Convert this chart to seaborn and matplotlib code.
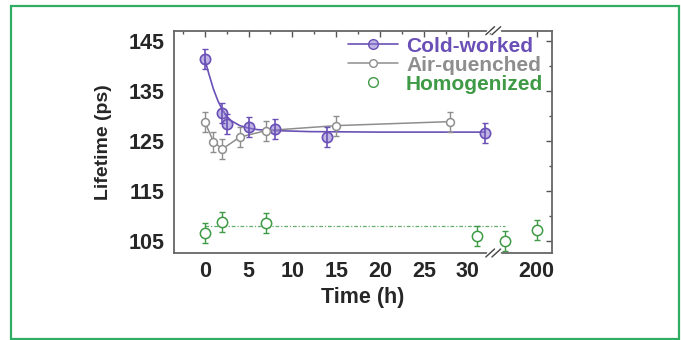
import numpy as np
import pandas as pd
import matplotlib
matplotlib.use('Agg')
import matplotlib.pyplot as plt
import seaborn as sns
from matplotlib.patches import Rectangle
from matplotlib.lines import Line2D
from matplotlib.ticker import MultipleLocator

# ── DATA ─────────────────────────────────────────────────────
cold_t   = [0, 2, 2.5, 5, 8, 14, 32]
cold_y   = [141.3, 130.5, 128.3, 127.8, 127.3, 125.7, 126.5]
cold_err = [2.0, 2.0, 2.0, 2.0, 2.0, 2.0, 2.0]

# fitted decay curve
fit_t = [0, 0.5, 1, 1.5, 2, 2.5, 3, 4, 5, 6, 8, 12, 20, 32]
fit_y = [141.3, 138.2, 135.3, 133.0, 131.2, 129.9, 129.0, 128.0,
         127.5, 127.2, 127.0, 126.8, 126.7, 126.7]

air_t   = [0, 1, 2, 4, 7, 15, 28]
air_y   = [128.8, 124.8, 123.3, 125.7, 127.0, 128.0, 128.8]
air_err = [2.0, 2.0, 2.0, 2.0, 2.0, 2.0, 2.0]

hom_t   = [0, 2, 7, 31, 100, 200]
hom_y   = [106.5, 108.7, 108.5, 106.0, 105.0, 107.1]
hom_err = [2.0, 2.0, 2.0, 2.0, 2.0, 2.0]
hom_mean = 108.0
hom_line_t = [0, 100]

x_ticks  = [0, 5, 10, 15, 20, 25, 30, 200]
y_ticks  = [105, 115, 125, 135, 145]

purple = '#6a50b6'
grey   = '#8e8e8e'
green  = '#3f9a45'


def tpos(t):
    # broken axis: linear up to 32 h, compressed after the break
    t = np.asarray(t, dtype=float)
    return np.where(t <= 32, t, 34.2 + (t - 100) * 0.0365)


# ── FIGURE ───────────────────────────────────────────────────
sns.set_style('white')
plt.rcParams['font.family'] = ['Liberation Sans', 'DejaVu Sans']
plt.rcParams['font.weight'] = 'bold'

fig = plt.figure(figsize=(6.81, 3.40), dpi=100)
fig.patches.append(Rectangle((11 / 681, 1 - 339 / 340), 668 / 681, 333 / 340,
                             transform=fig.transFigure, fill=False,
                             edgecolor='#2fae63', linewidth=1.6))

ax = fig.add_axes([174 / 681, 1 - 253 / 340, 378 / 681, 222.3 / 340])

# cold-worked
sns.lineplot(x=tpos(fit_t), y=fit_y, ax=ax, color=purple, lw=1.2,
             estimator=None, sort=False)
ax.errorbar(tpos(cold_t), cold_y, yerr=cold_err, fmt='none',
            ecolor=purple, elinewidth=1.2, capsize=2.5, capthick=1.0, zorder=5)
sns.scatterplot(x=tpos(cold_t), y=cold_y, ax=ax, marker='o', s=55,
                facecolor=(0.55, 0.47, 0.82, 0.55), edgecolor=purple,
                linewidth=1.2, zorder=4)

# air-quenched
sns.lineplot(x=tpos(air_t), y=air_y, ax=ax, color=grey, lw=1.1,
             estimator=None, sort=False)
ax.errorbar(tpos(air_t), air_y, yerr=air_err, fmt='none',
            ecolor=grey, elinewidth=1.0, capsize=2.5, capthick=1.0)
sns.scatterplot(x=tpos(air_t), y=air_y, ax=ax, marker='o', s=32,
                facecolor='white', edgecolor=grey, linewidth=1.1, zorder=4)

# homogenized
ax.plot(tpos(hom_line_t), [hom_mean, hom_mean], color=green, lw=0.9,
        ls=(0, (3, 1.5, 1, 1.5)), alpha=0.8)
ax.errorbar(tpos(hom_t), hom_y, yerr=hom_err, fmt='none',
            ecolor=green, elinewidth=1.0, capsize=2.5, capthick=1.0)
sns.scatterplot(x=tpos(hom_t), y=hom_y, ax=ax, marker='o', s=55,
                facecolor='white', edgecolor=green, linewidth=1.1, zorder=4)

ax.set_xlim(-3.5, 39.6)
ax.set_ylim(102.5, 147)
ax.set_xticks(tpos(x_ticks))
ax.set_xticklabels([str(t) for t in x_ticks])
ax.set_xticks(np.arange(-2.5, 33, 2.5), minor=True)
ax.set_yticks(y_ticks)
ax.yaxis.set_minor_locator(MultipleLocator(5))
ax.tick_params(which='both', direction='in', top=True, right=True,
               color='#555555', labelsize=15.5)
ax.tick_params(axis='y', pad=7)
ax.tick_params(axis='x', pad=6)
ax.tick_params(which='major', length=4, width=1)
ax.tick_params(which='minor', length=2.5, width=1)
for sp in ax.spines.values():
    sp.set_color('#666666')
    sp.set_linewidth(1.3)

ax.set_xlabel('Time (h)', fontsize=15.5, fontweight='bold', labelpad=3)
ax.set_ylabel('Lifetime (ps)', fontsize=14, fontweight='bold', labelpad=12)

# break marks on top and bottom axes
for yb in (0, 1):
    ax.plot([32.3, 33.5], [yb, yb], transform=ax.get_xaxis_transform(),
            color='white', lw=2.5, clip_on=False, zorder=5)
    for dx in (-0.35, 0.35):
        ax.plot([32.9 + dx - 0.5, 32.9 + dx + 0.5], [yb - 0.018, yb + 0.018],
                transform=ax.get_xaxis_transform(), color='#444444',
                lw=1.0, clip_on=False, zorder=6)

handles = [
    Line2D([], [], color=purple, marker='o', markersize=7,
           markerfacecolor=(0.55, 0.47, 0.82, 0.55), markeredgecolor=purple, lw=1.2),
    Line2D([], [], color=grey, marker='o', markersize=5.5,
           markerfacecolor='white', markeredgecolor=grey, lw=1.1),
    Line2D([], [], color=green, marker='o', markersize=7, ls='none',
           markerfacecolor='white', markeredgecolor=green),
]
leg = ax.legend(handles, ['Cold-worked', 'Air-quenched', 'Homogenized'],
                loc='upper right', bbox_to_anchor=(1.01, 1.03), frameon=False,
                prop={'size': 15, 'weight': 'bold'}, handlelength=2.4,
                handletextpad=0.4, labelspacing=0.0, borderaxespad=0.2)
for txt, c in zip(leg.get_texts(), [purple, grey, green]):
    txt.set_color(c)

fig.savefig('out.png', dpi=100)
